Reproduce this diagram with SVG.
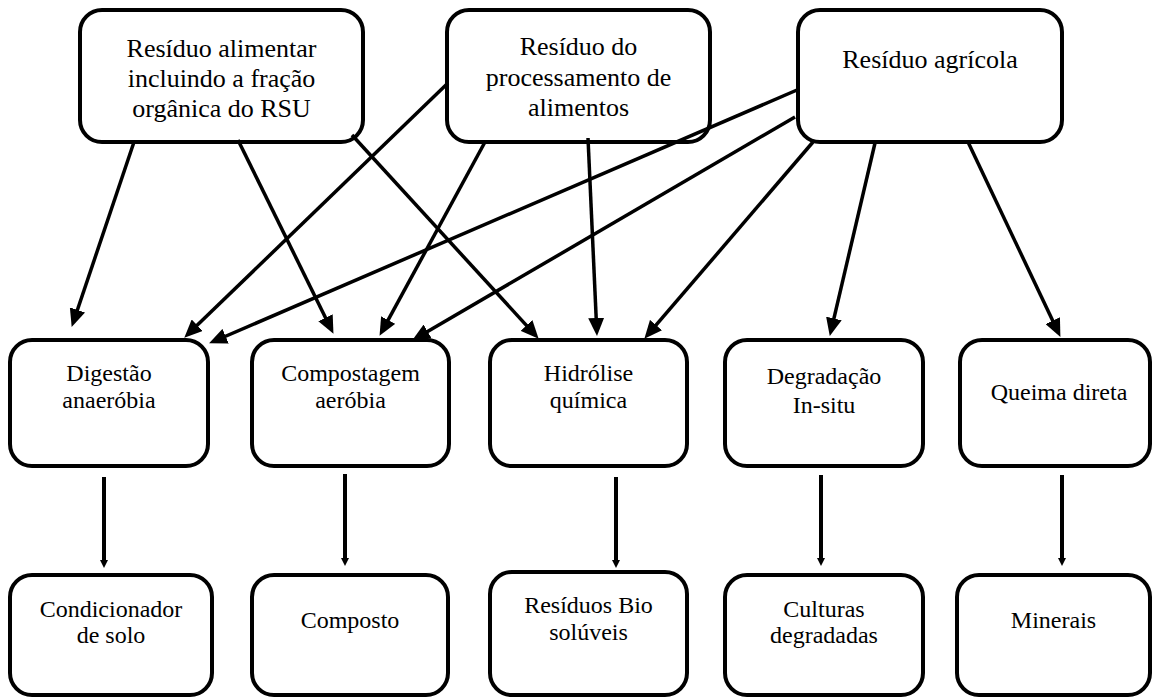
<svg xmlns="http://www.w3.org/2000/svg" width="1153" height="698" viewBox="0 0 1153 698">
  <style>
    .box { fill: #ffffff; stroke: #000000; stroke-width: 4; }
    .lbl { font-family: "Liberation Serif", "Times New Roman", serif; fill: #000000; text-anchor: middle; }
    .top { font-size: 26px; }
    .mid { font-size: 24px; }
    .link { stroke: #000000; stroke-width: 3.5; fill: none; marker-end: url(#head); }
    .drop { stroke: #000000; stroke-width: 4; fill: none; marker-end: url(#small); }
  </style>
  <defs>
    <marker id="head" markerUnits="userSpaceOnUse" markerWidth="18" markerHeight="16" refX="7" refY="8" orient="auto">
      <path d="M0,0 L18,8 L0,16 z" fill="#000000"/>
    </marker>
    <marker id="small" markerUnits="userSpaceOnUse" markerWidth="8" markerHeight="8" refX="3" refY="4" orient="auto">
      <path d="M0,0 L8,4 L0,8 z" fill="#000000"/>
    </marker>
  </defs>
  <rect width="1153" height="698" fill="#ffffff"/>

  <!-- sources -->
  <g id="residuo-alimentar">
    <rect class="box" x="80" y="10" width="283" height="132" rx="22"/>
    <text class="lbl top" x="221.5" y="57">Resíduo alimentar</text>
    <text class="lbl top" x="221.5" y="87">incluindo a fração</text>
    <text class="lbl top" x="221.5" y="117">orgânica do RSU</text>
  </g>
  <g id="residuo-processamento">
    <rect class="box" x="447" y="10" width="263" height="132" rx="22"/>
    <text class="lbl top" x="578.5" y="55">Resíduo do</text>
    <text class="lbl top" x="578.5" y="86">processamento de</text>
    <text class="lbl top" x="578.5" y="116">alimentos</text>
  </g>
  <g id="residuo-agricola">
    <rect class="box" x="798" y="10" width="264" height="132" rx="22"/>
    <text class="lbl top" x="930" y="68">Resíduo agrícola</text>
  </g>

  <!-- processes -->
  <g id="digestao">
    <rect class="box" x="10" y="340" width="198" height="126" rx="22"/>
    <text class="lbl mid" x="109" y="381">Digestão</text>
    <text class="lbl mid" x="109" y="408">anaeróbia</text>
  </g>
  <g id="compostagem">
    <rect class="box" x="252" y="340" width="197" height="126" rx="22"/>
    <text class="lbl mid" x="350.5" y="381">Compostagem</text>
    <text class="lbl mid" x="350.5" y="408">aeróbia</text>
  </g>
  <g id="hidrolise">
    <rect class="box" x="490" y="340" width="197" height="126" rx="22"/>
    <text class="lbl mid" x="588.5" y="381">Hidrólise</text>
    <text class="lbl mid" x="588.5" y="408">química</text>
  </g>
  <g id="degradacao">
    <rect class="box" x="725" y="340" width="198" height="126" rx="22"/>
    <text class="lbl mid" x="824" y="384">Degradação</text>
    <text class="lbl mid" x="824" y="413">In-situ</text>
  </g>
  <g id="queima">
    <rect class="box" x="960" y="340" width="190" height="126" rx="22"/>
    <text class="lbl mid" x="1059" y="400">Queima direta</text>
  </g>

  <!-- products -->
  <g id="condicionador">
    <rect class="box" x="10" y="575" width="202" height="120" rx="22"/>
    <text class="lbl mid" x="111" y="617">Condicionador</text>
    <text class="lbl mid" x="111" y="643">de solo</text>
  </g>
  <g id="composto">
    <rect class="box" x="252" y="575" width="196" height="120" rx="22"/>
    <text class="lbl mid" x="350" y="628">Composto</text>
  </g>
  <g id="residuos-bio">
    <rect class="box" x="490" y="572" width="197" height="123" rx="22"/>
    <text class="lbl mid" x="588.5" y="613">Resíduos Bio</text>
    <text class="lbl mid" x="588.5" y="640">solúveis</text>
  </g>
  <g id="culturas">
    <rect class="box" x="725" y="575" width="198" height="120" rx="22"/>
    <text class="lbl mid" x="824" y="617">Culturas</text>
    <text class="lbl mid" x="824" y="643">degradadas</text>
  </g>
  <g id="minerais">
    <rect class="box" x="957" y="575" width="193" height="120" rx="22"/>
    <text class="lbl mid" x="1053.5" y="628">Minerais</text>
  </g>

  <!-- connectors -->
  <g id="connectors">
    <line class="link" x1="134" y1="142" x2="75.2" y2="316.5"/>
    <line class="link" x1="238" y1="140" x2="328.6" y2="324"/>
    <line class="link" x1="352" y1="135" x2="531.2" y2="330.6"/>
    <line class="link" x1="448" y1="83" x2="192.2" y2="330.1"/>
    <line class="link" x1="485" y1="142" x2="384.8" y2="326.2"/>
    <line class="link" x1="588" y1="138" x2="596.5" y2="325"/>
    <line class="link" x1="797" y1="90" x2="219.2" y2="339"/>
    <line class="link" x1="795" y1="117" x2="421.6" y2="335"/>
    <line class="link" x1="813" y1="142" x2="651.5" y2="330.4"/>
    <line class="link" x1="875" y1="143" x2="832.3" y2="325.3"/>
    <line class="link" x1="968" y1="142" x2="1055.7" y2="327"/>
    <line class="drop" x1="104" y1="477" x2="104" y2="563"/>
    <line class="drop" x1="345" y1="474" x2="345" y2="561"/>
    <line class="drop" x1="616" y1="477" x2="616" y2="563"/>
    <line class="drop" x1="821" y1="475" x2="821" y2="561"/>
    <line class="drop" x1="1062" y1="475" x2="1062" y2="561"/>
  </g>
</svg>
